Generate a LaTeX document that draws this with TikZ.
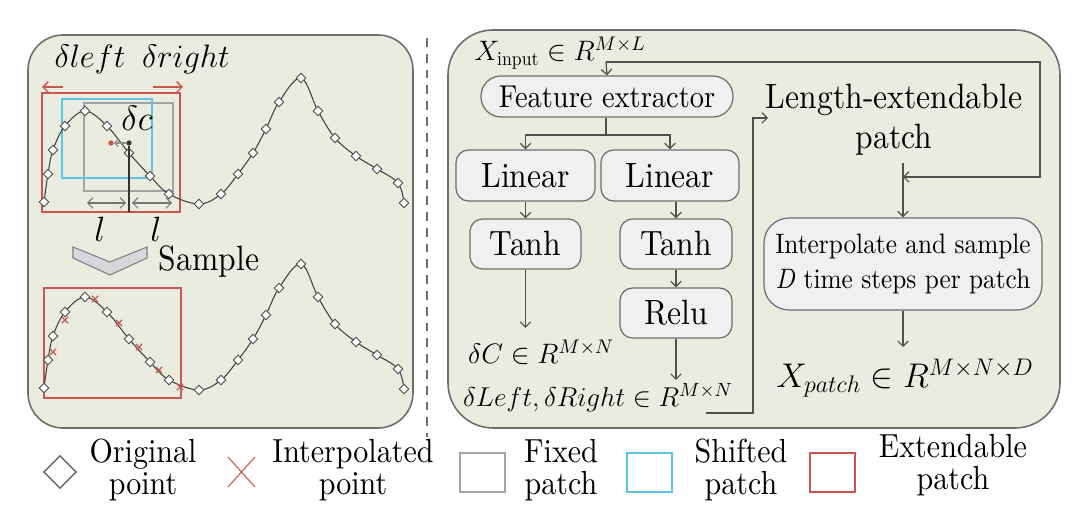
\documentclass[tikz,border=0pt]{standalone}
\usepackage{fix-cm}
\usepackage{amsmath}
\usepackage{fontspec}
\setmainfont{lmroman10-regular.otf}[ItalicFont=lmroman10-italic.otf, BoldFont=lmroman10-bold.otf, FakeStretch=0.9]
\usetikzlibrary{arrows.meta,shapes.geometric,shapes.misc}
\definecolor{panelfill}{HTML}{E9ECDF}
\definecolor{panelline}{HTML}{6E6E6E}
\definecolor{boxfill}{HTML}{F0F0F0}
\definecolor{flowgray}{HTML}{505050}
\definecolor{extred}{HTML}{C9574E}
\definecolor{shiftblue}{HTML}{5EC3E4}
\definecolor{fixgray}{HTML}{A3A3A3}
\definecolor{chevgray}{HTML}{D6D7DA}
\newcommand\fsz[2]{\fontsize{#1}{#2}\selectfont}

\begin{document}
\begin{tikzpicture}[x=0.02cm, y=-0.02cm,
  every text node part/.style={align=center},
  panel/.style={draw=panelline, fill=panelfill, line width=0.9pt},
  blockbox/.style={draw=panelline, fill=boxfill, line width=0.7pt, inner sep=0pt, rounded corners=0.25cm, font=\fsz{20}{23}},
  flow/.style={draw=flowgray, line width=0.7pt, -{Straight Barb[length=3pt,width=6pt]}},
  wire/.style={draw=flowgray, line width=0.7pt},
  origpt/.style={diamond, draw=black!70, fill=white, line width=0.5pt, inner sep=0pt, minimum size=0.2cm},
  interpt/.style={cross out, draw=extred, line width=0.7pt, inner sep=0pt, minimum size=0.1cm},
  lbl/.style={inner sep=0pt, font=\fsz{19}{18.5}},
  patchline/.style={line width=1pt}]

\useasboundingbox[fill=white] (0,0) rectangle (1080,523);

% panels
\draw[panel, rounded corners=0.7cm] (28,35) rectangle (413,428); %left
\draw[panel, rounded corners=0.9cm] (448,30) rectangle (1060,428); %right
\draw[panelline, line width=1pt, dash pattern=on 5pt off 4pt] (427,38) -- (427,437); %divider

% left: top curve with patches
\draw[extred, patchline] (42,93) rectangle (180,212); %extendable
\draw[fixgray, patchline] (84,103) rectangle (173,191); %fixed
\draw[shiftblue, patchline] (62,99) rectangle (152,178); %shifted
\draw[black!75, line width=0.6pt] plot[smooth, tension=0.6] coordinates {(44,202) (48,174) (53,150) (65,126) (85,111) (107,126) (129,153) (150,176) (169,194) (199,204) (221,194) (238,174) (253,153) (266,129) (279,102) (301,78) (318,111) (335,138) (356,156) (377,169) (398,183) (404,203)};
\foreach \px/\py in {44/202, 48/174, 53/150, 65/126, 85/111, 107/126, 129/153, 150/176, 169/194, 199/204, 221/194, 238/174, 253/153, 266/129, 279/102, 301/78, 318/111, 335/138, 356/156, 377/169, 398/183, 404/203}
  \node[origpt] at (\px,\py) {};

\node[inner sep=0pt, font=\fsz{18.5}{19}] (dleft) at (90,59) {$\delta left$};
\node[inner sep=0pt, font=\fsz{18.5}{19}] (dright) at (186,59) {$\delta right$};
\coordinate (lftA) at (63,87); \coordinate (lftB) at (42,87);
\coordinate (rgtA) at (153,87); \coordinate (rgtB) at (183,87);
\draw[extred, line width=0.8pt, -{Straight Barb[length=3pt,width=6pt]}] (lftA) -- (lftB);
\draw[extred, line width=0.8pt, -{Straight Barb[length=3pt,width=6pt]}] (rgtA) -- (rgtB);

\node[inner sep=0pt, font=\fsz{20}{20}] (dc) at (137,118) {$\delta c$};
\node[circle, fill=extred, inner sep=0pt, minimum size=3pt] (newc) at (111,143) {};
\node[circle, fill=black!80, inner sep=0pt, minimum size=3pt] (oldc) at (129,143) {};
\draw[black!45, line width=0.6pt, -{Straight Barb[length=2pt,width=4pt]}] (oldc) -- (newc);
\coordinate (cfoot) at (129,212);
\draw[black!80, line width=0.7pt] (oldc) -- (cfoot);
\coordinate (lA) at (87,203); \coordinate (lB) at (126,203);
\coordinate (rA) at (132,203); \coordinate (rB) at (172,203);
\draw[black!55, line width=0.6pt, {Straight Barb[length=3pt,width=6pt]}-{Straight Barb[length=3pt,width=6pt]}] (lA) -- (lB);
\draw[black!55, line width=0.6pt, {Straight Barb[length=3pt,width=6pt]}-{Straight Barb[length=3pt,width=6pt]}] (rA) -- (rB);
\node[inner sep=0pt, font=\fsz{20}{20}] (lenl) at (100,229) {$l$};
\node[inner sep=0pt, font=\fsz{20}{20}] (lenr) at (156,229) {$l$};

% sample chevron
\draw[black!50, fill=chevgray, line width=0.6pt] (73,247) -- (110,262) -- (147,247) -- (147,258) -- (110,275) -- (73,258) -- cycle;
\node[lbl, font=\fsz{20}{20}] (sample) at (209,262) {Sample};

% left: bottom curve after sampling
\begin{scope}[shift={(0,186)}]
\draw[extred, patchline] (44,102) rectangle (181,212); %extendable
\draw[black!75, line width=0.6pt] plot[smooth, tension=0.6] coordinates {(44,202) (48,174) (53,150) (65,126) (85,111) (107,126) (129,153) (150,176) (169,194) (199,204) (221,194) (238,174) (253,153) (266,129) (279,102) (301,78) (318,111) (335,138) (356,156) (377,169) (398,183) (404,203)};
\foreach \px/\py in {44/202, 48/174, 53/150, 65/126, 85/111, 107/126, 129/153, 150/176, 169/194, 199/204, 221/194, 238/174, 253/153, 266/129, 279/102, 301/78, 318/111, 335/138, 356/156, 377/169, 398/183, 404/203}
  \node[origpt] at (\px,\py) {};
\end{scope}
\foreach \px/\py in {53/352, 65/320, 95/299, 119/323, 139/347, 159/370, 180/387}
  \node[interpt] at (\px,\py) {};

% right: blocks
\node[inner sep=0pt, font=\fsz{16}{16}] (xin) at (560,53) {$X_{\text{input}} \in R^{M\times L}$};
\coordinate (inp) at (606,62);
\node[blockbox, rounded corners=0.4cm, minimum width=5.04cm, minimum height=0.82cm, font=\fsz{18}{20}] (fe) at (607,96.5) {Feature extractor};
\node[blockbox, minimum width=2.78cm, minimum height=1.02cm] (lin1) at (525.5,175.5) {Linear};
\node[blockbox, minimum width=2.76cm, minimum height=1.02cm] (lin2) at (670,175.5) {Linear};
\node[blockbox, minimum width=2.22cm, minimum height=1.0cm] (tanh1) at (525.5,244) {Tanh};
\node[blockbox, minimum width=2.24cm, minimum height=1.0cm] (tanh2) at (676,244) {Tanh};
\node[blockbox, minimum width=2.24cm, minimum height=1.0cm] (relu) at (676,313) {Relu};
\node[inner sep=0pt, font=\fsz{16}{16}] (dC) at (541,352) {$\delta C \in R^{M\times N}$};
\node[inner sep=0pt, font=\fsz{15.5}{16}] (dLR) at (598,398) {$\delta Left, \delta Right \in R^{M\times N}$};
\node[inner sep=0pt, font=\fsz{20}{23}] (lenext) at (894,120) {Length-extendable\\patch};
\node[blockbox, rounded corners=0.5cm, minimum width=5.56cm, minimum height=1.84cm, font=\fsz{16}{20}] (interp) at (903,264) {Interpolate and sample\\\textit{D} time steps per patch};
\node[inner sep=0pt, font=\fsz{19.5}{20}] (xpatch) at (905,378) {$X_{patch} \in R^{M\times N\times D}$};

% right: connectors
\coordinate (split) at (606,135);
\coordinate (turn) at (1040,177);
\coordinate (join) at (903,177);
\coordinate (outC) at (525.5,328);
\coordinate (outLR) at (676,380);
\coordinate (dout) at (706,413);
\coordinate (bend) at (753,413);
\coordinate (lenin) at (768,118);
\coordinate (lentop) at (903,163);
\coordinate (pout) at (903,347);
\draw[flow] (inp) -- (fe.north);
\draw[flow] (inp) -| (turn) -- (join);
\draw[wire] (fe.south -| split) -- (split);
\draw[flow] (split) -| (lin1.north);
\draw[flow] (split) -| (lin2.north);
\draw[flow] (lin1.south) -- (tanh1.north);
\draw[flow] (lin2.south -| tanh2.north) -- (tanh2.north);
\draw[flow] (tanh2.south) -- (relu.north);
\draw[flow] (tanh1.south) -- (outC);
\draw[flow] (relu.south) -- (outLR);
\draw[flow] (dout) -- (bend) |- (lenin);
\draw[flow] (lentop) -- (interp.north);
\draw[flow] (interp.south) -- (pout);

% legend
\node[diamond, draw=black!60, line width=0.8pt, inner sep=0pt, minimum size=0.66cm] (legorig) at (60,472) {};
\node[lbl] (legorigt) at (143,470) {Original\\point};
\coordinate (xA) at (228,457); \coordinate (xB) at (255,487);
\coordinate (xC) at (228,487); \coordinate (xD) at (255,457);
\draw[extred, line width=0.6pt] (xA) -- (xB) (xC) -- (xD);
\node[lbl] (leginterpt) at (353,470) {Interpolated\\point};
\draw[fixgray, patchline] (460,453) rectangle (505,492);
\node[lbl] (legfixt) at (561,470) {Fixed\\patch};
\draw[shiftblue, patchline] (627,453) rectangle (672,492);
\node[lbl] (legshiftt) at (741,470) {Shifted\\patch};
\draw[extred, patchline] (810,453) rectangle (855,492);
\node[lbl] (legextt) at (953,465) {Extendable\\patch};
\end{tikzpicture}
\end{document}
